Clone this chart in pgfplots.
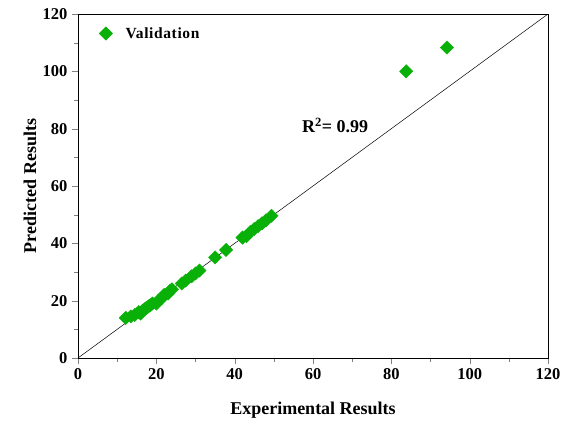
\documentclass[border=0pt]{standalone}
\usepackage{pgfplots}
\pgfplotsset{compat=1.18}
\usepackage{fontspec}
\setmainfont{Liberation Serif}
\definecolor{vgreen}{RGB}{8,176,8}
\begin{document}
\begin{tikzpicture}
\useasboundingbox (-78pt,-68pt) rectangle (491pt,358pt);
\begin{axis}[
  at={(0pt,0pt)}, anchor=south west,
  scale only axis,
  width=470pt, height=344pt,
  xmin=0, xmax=120, ymin=0, ymax=120,
  xtick={0,20,...,120}, ytick={0,20,...,120},
  minor tick num=1,
  tick align=outside,
  xtick pos=bottom, ytick pos=left,
  major tick length=6pt, minor tick length=3.5pt,
  /pgf/number format/assume math mode=true,
  tick label style={font=\fontsize{16.5}{19}\selectfont\bfseries},
  xticklabel style={yshift=-1pt},
  yticklabel style={xshift=-1pt},
  xlabel={Experimental Results},
  ylabel={Predicted Results},
  every axis x label/.style={at={(axis description cs:0.5,-0.151)}, anchor=center,
    font=\fontsize{18}{20}\selectfont\bfseries},
  every axis y label/.style={at={(axis description cs:-0.102,0.5)}, rotate=90, anchor=center,
    font=\fontsize{18}{20}\selectfont\bfseries},
  axis line style={black, line width=0.8pt},
  legend style={at={(axis cs:4.6,116.8)}, anchor=north west, draw=none, fill=none,
    font=\fontsize{15.5}{17}\selectfont\bfseries, column sep=11pt},
  legend cell align=left,
]
\addplot[only marks, mark=square*, mark size=4.7pt, mark options={rotate=45, fill=vgreen, draw=vgreen}, color=vgreen]
coordinates {
(12.2,14.0)(13.5,14.5)(14.5,15.0)(15.5,16.0)(16.0,15.5)(16.5,16.5)(17.0,17.0)(17.5,17.5)
(18.0,18.0)(18.5,18.5)(19.0,19.0)(20.0,19.0)(20.5,20.0)(21.5,21.0)(22.0,22.0)(23.0,22.5)
(23.5,23.5)(24.0,24.0)(26.5,26.0)(27.5,27.0)(29.0,28.5)(30.0,29.5)(31.0,30.5)
(35.0,35.1)(37.8,37.7)(42.0,42.0)(43.0,42.5)(44.0,44.0)(45.0,45.0)(46.0,46.0)
(47.0,47.0)(48.0,48.0)(49.4,49.6)(83.8,100.0)(94.2,108.3)
};
\addlegendentry{\addfontfeature{LetterSpace=4}Validation}
\addplot[black, line width=0.5pt, forget plot] coordinates {(0,0)(120,120)};
\node[anchor=west, font=\fontsize{18}{20}\selectfont\bfseries] at (axis cs:56.3,81) {R\textsuperscript{2}= 0.99};
\end{axis}
\end{tikzpicture}
\end{document}
